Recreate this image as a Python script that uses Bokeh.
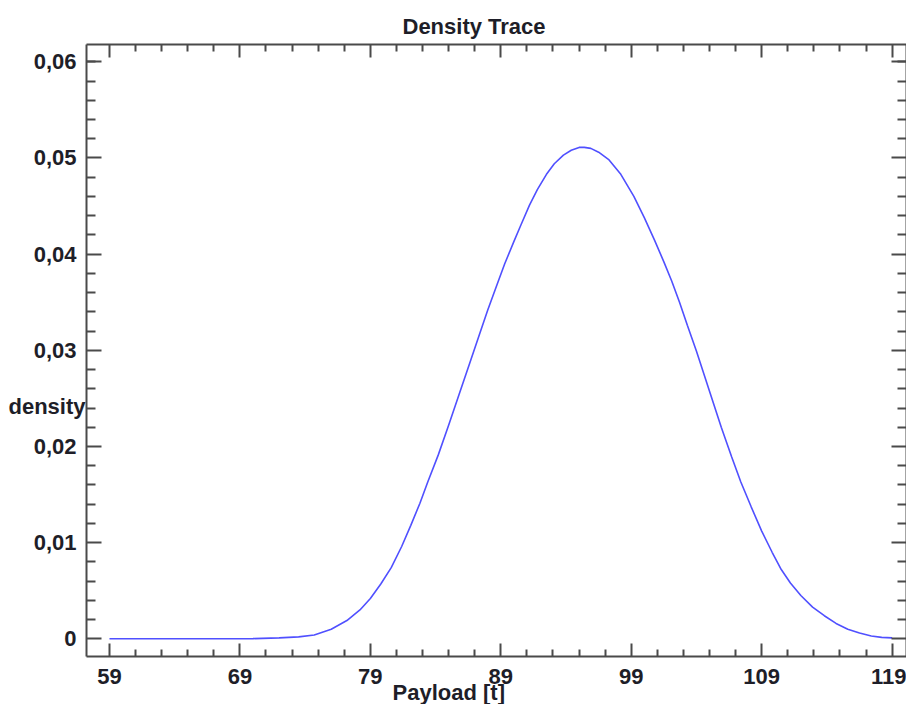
from bokeh.plotting import figure
from bokeh.models import (Range1d, LinearAxis, FixedTicker, Title,
                          CustomLabelingPolicy)
from bokeh.embed import file_html
from bokeh.resources import INLINE

# ---- data ----
payload = [59, 66, 70, 72, 73.5, 74.7, 76.0, 77.2, 78.2, 79.0, 79.8, 80.6, 81.4,
           82.1, 82.8, 83.4, 84.2, 85.0, 85.8, 86.7, 87.4, 88.0, 88.7, 89.3,
           90.0, 90.5, 91.2, 91.8, 92.5, 93.1, 93.8, 94.4, 95.0, 95.4, 95.9,
           96.5, 97.3, 98.2, 99.2, 100.0, 100.8, 101.5, 102.1, 102.7, 103.3,
           104.0, 104.6, 105.3, 105.9, 106.7, 107.4, 108.2, 109.0, 109.8, 110.5,
           111.2, 112.0, 112.9, 113.8, 114.7, 115.6, 116.5, 117.4, 118.2, 119]
density = [0.0, 0.0, 0.00002, 0.0001, 0.0002, 0.0004, 0.0010, 0.0019, 0.0030,
           0.0042, 0.0057, 0.0074, 0.0096, 0.0118, 0.0141, 0.0163, 0.0191,
           0.0222, 0.0254, 0.0290, 0.0318, 0.0342, 0.0368, 0.0390, 0.0413,
           0.0429, 0.0451, 0.0467, 0.0483, 0.0494, 0.0503, 0.0508, 0.0511,
           0.0511, 0.0510, 0.0506, 0.0498, 0.0483, 0.0460, 0.0438, 0.0414,
           0.0392, 0.0372, 0.0350, 0.0326, 0.0299, 0.0274, 0.0245, 0.0220,
           0.0189, 0.0163, 0.0137, 0.0112, 0.0090, 0.0072, 0.0058, 0.0045,
           0.0033, 0.0024, 0.0016, 0.0010, 0.0006, 0.0003, 0.00015, 0.0001]

x_ticks = [59, 69, 79, 89, 99, 109, 119]
x_minor = [61, 63, 65, 67, 71, 73, 75, 77, 81, 83, 85, 87, 91, 93, 95, 97,
           101, 103, 105, 107, 111, 113, 115, 117]
y_ticks = [0, 0.01, 0.02, 0.03, 0.04, 0.05, 0.06]
y_tick_labels = ["0", "0,01", "0,02", "0,03", "0,04", "0,05", "0,06"]
y_minor = [0.002, 0.004, 0.006, 0.008, 0.012, 0.014, 0.016, 0.018, 0.022, 0.024,
           0.026, 0.028, 0.032, 0.034, 0.036, 0.038, 0.042, 0.044, 0.046, 0.048,
           0.052, 0.054, 0.056, 0.058, 0.060]

title_text = "Density Trace"
x_label = "Payload [t]"
y_label = "density"

FONT = "Liberation Sans"
TXT = "#1e1e28"
AX = "#4a4a4a"
FS = "22px"

p = figure(width=906, height=704,
           x_range=Range1d(57.24, 120.1), y_range=Range1d(-0.00184, 0.0618),
           output_backend="svg", toolbar_location=None,
           x_axis_location=None, y_axis_location=None,
           min_border_left=86, min_border_right=0,
           min_border_top=44, min_border_bottom=48)
p.grid.visible = False
p.outline_line_color = None
p.background_fill_color = "white"
p.border_fill_color = "white"

no_labels = CustomLabelingPolicy(code="return new Set()")


def make_axis(ticks, minor, tin, min_in, show_labels, standoff=10, overrides=None):
    ax = LinearAxis(ticker=FixedTicker(ticks=ticks, minor_ticks=minor))
    ax.major_tick_in = tin
    ax.major_tick_out = 0
    ax.minor_tick_in = min_in
    ax.minor_tick_out = 0
    ax.axis_line_color = AX
    ax.axis_line_width = 2
    ax.major_tick_line_color = AX
    ax.major_tick_line_width = 2
    ax.minor_tick_line_color = AX
    ax.minor_tick_line_width = 2
    if show_labels:
        ax.major_label_text_font = FONT
        ax.major_label_text_font_style = "bold"
        ax.major_label_text_font_size = FS
        ax.major_label_text_color = TXT
        ax.major_label_standoff = standoff
        if overrides:
            ax.major_label_overrides = overrides
    else:
        ax.major_label_overrides = {t: "" for t in ticks}
        ax.major_label_policy = no_labels
        ax.major_label_text_font_size = "1px"
        ax.major_label_standoff = 0
    return ax


bottom = make_axis(x_ticks, x_minor, 13, 7, True, standoff=12)
top = make_axis(x_ticks, x_minor, 13, 7, False)
left = make_axis(y_ticks, y_minor, 15, 9, True, standoff=10,
                 overrides=dict(zip(y_ticks, y_tick_labels)))
right = make_axis(y_ticks, y_minor, 15, 9, False)
p.add_layout(bottom, "below")
p.add_layout(top, "above")
p.add_layout(left, "left")
p.add_layout(right, "right")

# y-axis name drawn as a single horizontal label beside the left axis
y_name_at = 0.0242
yname = LinearAxis(ticker=FixedTicker(ticks=[y_name_at], minor_ticks=[]))
yname.major_label_overrides = {y_name_at: y_label}
yname.axis_line_color = None
yname.major_tick_line_color = None
yname.minor_tick_line_color = None
yname.major_tick_in = 0
yname.major_tick_out = 0
yname.major_label_standoff = -55
yname.major_label_text_font = FONT
yname.major_label_text_font_style = "bold"
yname.major_label_text_font_size = FS
yname.major_label_text_color = TXT
p.add_layout(yname, "left")

p.title = Title(text=title_text, align="left", offset=316, standoff=12,
                text_font=FONT, text_font_style="bold", text_font_size=FS,
                text_color=TXT)
p.title_location = "above"

xname = Title(text=x_label, align="left", offset=306, standoff=-14,
              vertical_align="top", text_font=FONT, text_font_style="bold",
              text_font_size=FS, text_color=TXT)
p.add_layout(xname, "below")

p.line(payload, density, line_color="#5050ff", line_width=1.6)

open("out.html", "w").write(file_html(p, INLINE))
